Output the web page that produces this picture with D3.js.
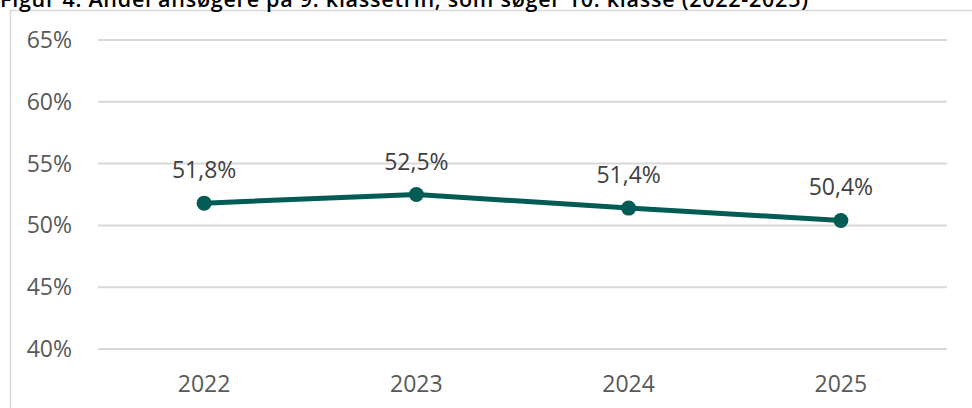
<!DOCTYPE html>
<html lang="da">
<head>
<meta charset="UTF-8">
<title>Figur 4</title>
<script src="https://d3js.org/d3.v7.min.js"></script>
<style>
    body { margin: 0; background: #fff; }
    svg { display: block; font-family: "Open Sans", "Noto Sans", sans-serif; }
    .grid line { stroke: #d9d9d9; stroke-width: 2px; }
    .tick-label { fill: #595959; font-size: 23px; }
    .value-label { fill: #404040; font-size: 23px; }
</style>
</head>
<body>
<svg width="972" height="408"></svg>
<script>
    // data
    const titleText = "Figur 4. Andel ansøgere på 9. klassetrin, som søger 10. klasse (2022-2025)";
    const years = ["2022", "2023", "2024", "2025"];
    const shares = [51.8, 52.5, 51.4, 50.4];
    const yTicks = [40, 45, 50, 55, 60, 65];

    const width = 972, height = 408;
    const margin = { top: 40, right: 25, bottom: 59, left: 98 };

    const svg = d3.select("svg");

    // frame: left + top border
    svg.append("path")
        .attr("d", `M10.5,${height} L10.5,10.5 L${width},10.5`)
        .attr("fill", "none")
        .attr("stroke", "#d9d9d9")
        .attr("stroke-width", 1.5);

    // title (top cut off like in the original)
    svg.append("text")
        .attr("x", 0)
        .attr("y", 7)
        .attr("font-size", 21.5)
        .attr("font-weight", 600)
        .attr("fill", "#000")
        .attr("textLength", 808)
        .attr("lengthAdjust", "spacing")
        .text(titleText);

    const x = d3.scaleBand()
        .domain(years)
        .range([margin.left, width - margin.right]);

    const y = d3.scaleLinear()
        .domain([40, 65])
        .range([height - margin.bottom, margin.top]);

    // gridlines
    svg.append("g")
        .attr("class", "grid")
        .selectAll("line")
        .data(yTicks)
        .join("line")
        .attr("x1", margin.left)
        .attr("x2", width - margin.right)
        .attr("y1", d => y(d))
        .attr("y2", d => y(d));

    // y axis labels
    svg.append("g")
        .selectAll("text")
        .data(yTicks)
        .join("text")
        .attr("class", "tick-label")
        .attr("x", 72)
        .attr("y", d => y(d))
        .attr("dy", "0.35em")
        .attr("text-anchor", "end")
        .text(d => d + "%");

    // x axis labels
    svg.append("g")
        .selectAll("text")
        .data(years)
        .join("text")
        .attr("class", "tick-label")
        .attr("x", d => x(d) + x.bandwidth() / 2)
        .attr("y", 392)
        .attr("text-anchor", "middle")
        .text(d => d);

    const data = years.map((yr, i) => ({ year: yr, value: shares[i] }));
    const cx = d => x(d.year) + x.bandwidth() / 2;

    // line
    svg.append("path")
        .datum(data)
        .attr("fill", "none")
        .attr("stroke", "#005c55")
        .attr("stroke-width", 5)
        .attr("stroke-linejoin", "round")
        .attr("d", d3.line().x(cx).y(d => y(d.value)));

    // markers
    svg.append("g")
        .selectAll("circle")
        .data(data)
        .join("circle")
        .attr("cx", cx)
        .attr("cy", d => y(d.value))
        .attr("r", 7.5)
        .attr("fill", "#005c55");

    // value labels
    svg.append("g")
        .selectAll("text")
        .data(data)
        .join("text")
        .attr("class", "value-label")
        .attr("x", cx)
        .attr("y", d => y(d.value) - 25)
        .attr("text-anchor", "middle")
        .text(d => d.value.toFixed(1).replace(".", ",") + "%");
</script>
</body>
</html>
